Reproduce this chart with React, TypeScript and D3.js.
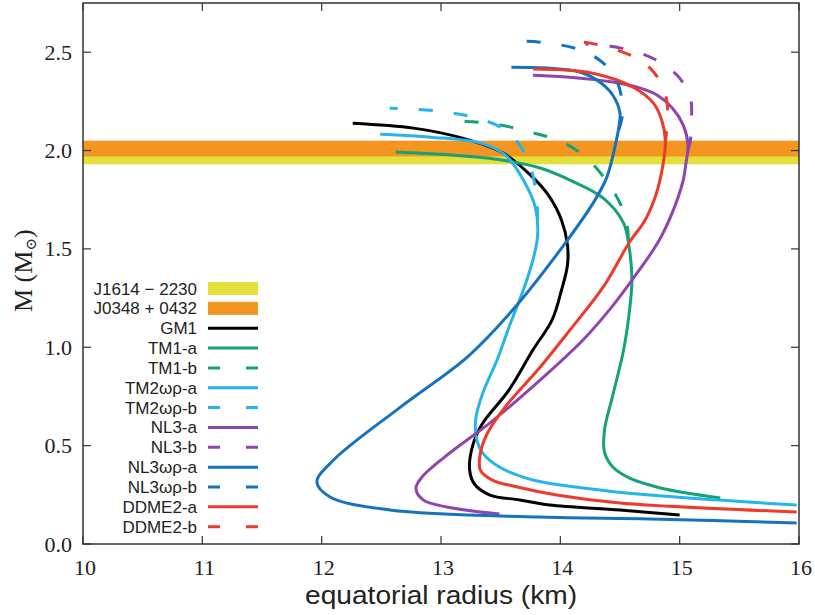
import * as d3 from 'd3';

const width = 815;
const height = 615;
const [mt, mr, mb, ml] = [3, 16, 71, 83];

const xTicks = [10, 11, 12, 13, 14, 15, 16];
const yTicks = [0, 0.5, 1.0, 1.5, 2.0, 2.5];

// pulsar mass bands
const bandNames = ['J1614 − 2230', 'J0348 + 0432'];
const bandMass = [1.97, 2.01];
const bandErr = [0.04, 0.04];
const bandColors = ['#e5df3b', '#f4951f'];

// [equatorial radius (km), M (Msun)]
const GM1 = [[12.26, 2.139], [12.77, 2.114], [13.18, 2.063], [13.52, 1.987], [13.75, 1.875], [13.9, 1.773], [14.01, 1.646], [14.06, 1.519], [14.06, 1.418], [14.01, 1.291], [13.93, 1.138], [13.77, 0.986], [13.57, 0.783], [13.34, 0.605], [13.26, 0.488], [13.24, 0.376], [13.28, 0.305], [13.41, 0.249], [13.66, 0.224], [13.91, 0.198], [14.5, 0.173], [15.0, 0.147]];
const TM1a = [[12.62, 1.992], [13.08, 1.977], [13.52, 1.951], [13.83, 1.911], [14.08, 1.85], [14.36, 1.758], [14.53, 1.631], [14.58, 1.494], [14.6, 1.341], [14.58, 1.189], [14.53, 0.986], [14.44, 0.757], [14.37, 0.579], [14.37, 0.467], [14.44, 0.391], [14.58, 0.335], [14.84, 0.285], [15.06, 0.259], [15.34, 0.234]];
const TM1b = [[14.57, 1.545], [14.56, 1.621], [14.5, 1.733], [14.37, 1.86], [14.21, 1.967], [14.0, 2.048], [13.75, 2.093], [13.41, 2.139], [13.06, 2.149]];
const TM2a = [[12.49, 2.083], [12.91, 2.068], [13.33, 2.038], [13.54, 1.977], [13.69, 1.85], [13.79, 1.712], [13.81, 1.57], [13.77, 1.443], [13.69, 1.291], [13.57, 1.103], [13.47, 0.935], [13.35, 0.767], [13.29, 0.63], [13.3, 0.528], [13.35, 0.462], [13.49, 0.391], [13.77, 0.325], [14.19, 0.285], [14.75, 0.249], [15.98, 0.198]];
const TM2b = [[13.81, 1.646], [13.8, 1.773], [13.75, 1.916], [13.66, 2.027], [13.54, 2.104], [13.33, 2.16], [12.99, 2.2], [12.57, 2.215]];
const NL3a = [[13.77, 2.383], [14.08, 2.373], [14.44, 2.348], [14.67, 2.317], [14.81, 2.282], [14.94, 2.215], [15.03, 2.129], [15.07, 2.027], [15.05, 1.926], [15.03, 1.85], [14.94, 1.687], [14.82, 1.535], [14.6, 1.341], [14.43, 1.204], [14.19, 1.037], [13.83, 0.833], [13.44, 0.63], [13.03, 0.442], [12.84, 0.34], [12.79, 0.284], [12.85, 0.224], [13.05, 0.188], [13.49, 0.152]];
const NL3b = [[15.07, 2.002], [15.09, 2.053], [15.1, 2.165], [15.09, 2.266], [15.0, 2.368], [14.85, 2.444], [14.67, 2.495], [14.42, 2.53], [14.21, 2.541]];
const NL3wra = [[13.59, 2.424], [13.89, 2.419], [14.17, 2.398], [14.33, 2.348], [14.44, 2.281], [14.5, 2.19], [14.49, 2.119], [14.47, 2.053], [14.39, 1.865], [14.29, 1.748], [14.06, 1.545], [13.6, 1.189], [13.22, 0.95], [12.66, 0.696], [12.1, 0.427], [11.96, 0.315], [12.07, 0.239], [12.57, 0.173], [13.83, 0.137], [14.75, 0.127], [15.98, 0.107]];
const NL3wrb = [[14.49, 2.104], [14.52, 2.18], [14.51, 2.281], [14.45, 2.383], [14.33, 2.459], [14.15, 2.515], [13.83, 2.551], [13.56, 2.556]];
const DDME2a = [[13.77, 2.414], [14.27, 2.393], [14.61, 2.322], [14.78, 2.241], [14.85, 2.154], [14.88, 2.053], [14.86, 1.926], [14.8, 1.773], [14.71, 1.646], [14.58, 1.535], [14.37, 1.316], [14.06, 1.072], [13.81, 0.884], [13.55, 0.706], [13.39, 0.564], [13.33, 0.462], [13.33, 0.376], [13.43, 0.325], [13.64, 0.29], [13.97, 0.249], [14.5, 0.208], [15.98, 0.163]];
const DDME2b = [[14.88, 2.027], [14.89, 2.104], [14.9, 2.205], [14.87, 2.307], [14.79, 2.393], [14.67, 2.459], [14.48, 2.51], [14.25, 2.546], [14.06, 2.556]];

const names = ['GM1', 'TM1-a', 'TM1-b', 'TM2ωρ-a', 'TM2ωρ-b', 'NL3-a', 'NL3-b', 'NL3ωρ-a', 'NL3ωρ-b', 'DDME2-a', 'DDME2-b'];
const colors = ['#000000', '#15a27a', '#15a27a', '#25b5ea', '#25b5ea', '#8e45ad', '#8e45ad', '#1672bf', '#1672bf', '#ec3a2c', '#ec3a2c'];
const dashed = [false, false, true, false, true, false, true, false, true, false, true];
const curves = [GM1, TM1a, TM1b, TM2a, TM2b, NL3a, NL3b, NL3wra, NL3wrb, DDME2a, DDME2b];

export default function App() {
    const x = d3.scaleLinear().domain([10, 16]).range([ml, width - mr]);
    const y = d3.scaleLinear().domain([0, 2.75]).range([height - mb, mt]);

    const line = d3
        .line<number[]>()
        .x((d) => x(d[0]))
        .y((d) => y(d[1]))
        .curve(d3.curveCatmullRom.alpha(0.5));

    // legend rows
    const legendY = (i: number) => 288.5 + i * 19.85;
    const textEnd = 197;
    const [sx0, sx1] = [208, 258];
    const serif = '"Liberation Serif", "DejaVu Serif", serif';
    const sans = '"Liberation Sans", Arial, sans-serif';

    return (
        <svg
            width={width}
            height={height}
            style={{ position: 'absolute', left: 0, top: 0, background: '#fff' }}
        >
            <defs>
                <clipPath id="plot-area">
                    <rect x={ml} y={mt} width={width - ml - mr} height={height - mt - mb} />
                </clipPath>
            </defs>

            {/* mass bands */}
            <g clipPath="url(#plot-area)">
                {bandMass.map((m, i) => (
                    <rect
                        key={bandNames[i]}
                        x={ml}
                        width={width - ml - mr}
                        y={y(m + bandErr[i])}
                        height={y(m - bandErr[i]) - y(m + bandErr[i])}
                        fill={bandColors[i]}
                    />
                ))}
                {curves.map((c, i) => (
                    <path
                        key={names[i]}
                        d={line(c) || ''}
                        fill="none"
                        stroke={colors[i]}
                        strokeWidth={3}
                        strokeDasharray={dashed[i] ? '14 21' : undefined}
                    />
                ))}
            </g>

            {/* frame */}
            <rect
                x={ml}
                y={mt}
                width={width - ml - mr}
                height={height - mt - mb}
                fill="none"
                stroke="#333"
                strokeWidth={1.5}
            />

            {/* x ticks */}
            {xTicks.map((t) => (
                <g key={`x${t}`}>
                    <line x1={x(t)} x2={x(t)} y1={y(0)} y2={y(0) - 8} stroke="#333" strokeWidth={1.2} />
                    <line x1={x(t)} x2={x(t)} y1={mt} y2={mt + 8} stroke="#333" strokeWidth={1.2} />
                    <text x={x(t) + 2} y={575} textAnchor="middle" fontFamily={serif} fontSize={22} fill="#222">
                        {t}
                    </text>
                </g>
            ))}

            {/* y ticks */}
            {yTicks.map((t) => (
                <g key={`y${t}`}>
                    <line x1={ml} x2={ml + 8} y1={y(t)} y2={y(t)} stroke="#333" strokeWidth={1.2} />
                    <line x1={width - mr} x2={width - mr - 8} y1={y(t)} y2={y(t)} stroke="#333" strokeWidth={1.2} />
                    <text x={72} y={y(t) + 7.5} textAnchor="end" fontFamily={serif} fontSize={22} fill="#222">
                        {t.toFixed(1)}
                    </text>
                </g>
            ))}

            {/* axis titles */}
            <text
                x={441}
                y={604}
                textAnchor="middle"
                fontFamily={sans}
                fontSize={26}
                textLength={272}
                lengthAdjust="spacingAndGlyphs"
                fill="#222"
            >
                equatorial radius (km)
            </text>
            <text transform="translate(32,312) rotate(-90)" fontFamily={serif} fontSize={26} fill="#222">
                M (M
                <tspan fontSize={15} dy={4}>
                    ⊙
                </tspan>
                <tspan dy={-4}>)</tspan>
            </text>

            {/* legend */}
            {bandNames.map((n, i) => (
                <g key={n}>
                    <text x={textEnd} y={legendY(i) + 6} textAnchor="end" fontFamily={sans} fontSize={17} fill="#222">
                        {n}
                    </text>
                    <rect x={sx0} width={sx1 - sx0} y={legendY(i) - 6.5} height={13} fill={bandColors[i]} />
                </g>
            ))}
            {names.map((n, j) => {
                const i = j + bandNames.length;
                return (
                    <g key={`leg-${n}`}>
                        <text x={textEnd} y={legendY(i) + 6} textAnchor="end" fontFamily={sans} fontSize={17} fill="#222">
                            {n}
                        </text>
                        <line
                            x1={sx0}
                            x2={sx1}
                            y1={legendY(i)}
                            y2={legendY(i)}
                            stroke={colors[j]}
                            strokeWidth={3}
                            strokeDasharray={dashed[j] ? '12 26' : undefined}
                        />
                    </g>
                );
            })}
        </svg>
    );
}
